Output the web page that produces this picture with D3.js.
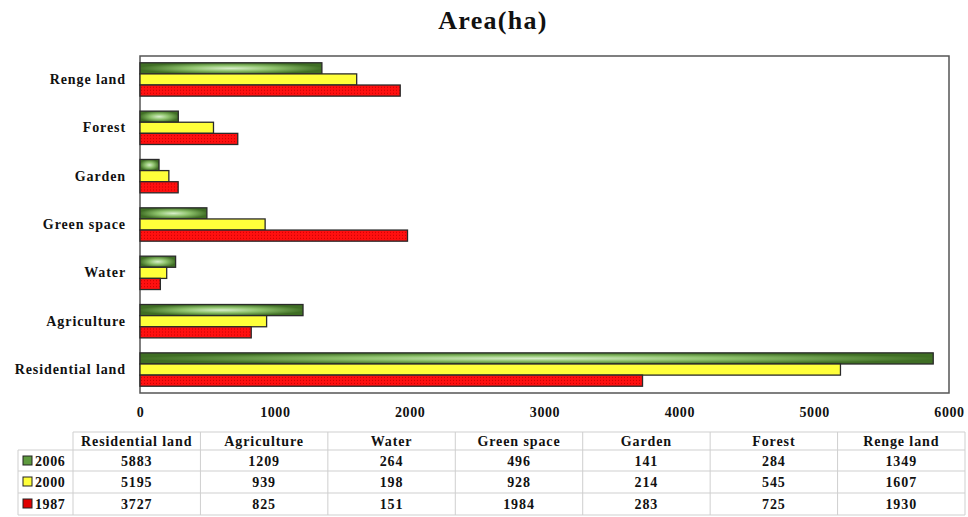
<!DOCTYPE html>
<html>
<head>
<meta charset="utf-8">
<script src="https://cdn.jsdelivr.net/npm/d3@7"></script>
<style>
  html, body { margin: 0; padding: 0; background: #fff; }
  svg { display: block; }
  text { font-family: "Liberation Serif", "Times New Roman", serif; font-weight: bold; fill: #111; }
</style>
</head>
<body>
<svg id="chart" width="968" height="517"></svg>
<script>
// ---- data ----
const categories = ["Residential land", "Agriculture", "Water", "Green space", "Garden", "Forest", "Renge land"];
const years = ["2006", "2000", "1987"];
const values2006 = [5883, 1209, 264, 496, 141, 284, 1349];
const values2000 = [5195, 939, 198, 928, 214, 545, 1607];
const values1987 = [3727, 825, 151, 1984, 283, 725, 1930];
const xTicks = [0, 1000, 2000, 3000, 4000, 5000, 6000];
const titleText = "Area(ha)";

const seriesValues = { "2006": values2006, "2000": values2000, "1987": values1987 };
const fills = { "2006": "url(#greenGrad)", "2000": "#ffff3a", "1987": "url(#redPat)" };
const swatch = { "2006": "#5e9a3e", "2000": "#ffff3a", "1987": "#e00000" };

const svg = d3.select("#chart");
const defs = svg.append("defs");

const rg = defs.append("radialGradient").attr("id", "greenGrad")
  .attr("cx", "50%").attr("cy", "50%").attr("r", "60%");
rg.append("stop").attr("offset", "0%").attr("stop-color", "#d8eecb");
rg.append("stop").attr("offset", "40%").attr("stop-color", "#8ec26c");
rg.append("stop").attr("offset", "85%").attr("stop-color", "#3f6e24");

const pat = defs.append("pattern").attr("id", "redPat")
  .attr("width", 3).attr("height", 3).attr("patternUnits", "userSpaceOnUse");
pat.append("rect").attr("width", 3).attr("height", 3).attr("fill", "#ff1010");
pat.append("rect").attr("x", 0).attr("y", 0).attr("width", 1).attr("height", 1).attr("fill", "#c80000");

// ---- layout ----
const plot = { left: 140, right: 949, top: 56, bottom: 393 };

svg.append("text").attr("x", 493).attr("y", 29)
  .attr("text-anchor", "middle").attr("font-size", 26).attr("letter-spacing", 1.3)
  .text(titleText);

const x = d3.scaleLinear().domain([0, 6000]).range([plot.left, plot.right]);
const y = d3.scaleBand().domain(categories.slice().reverse())
  .range([plot.top, plot.bottom]).paddingInner(0.31).paddingOuter(0.14);
const ySub = d3.scaleBand().domain(years).range([0, y.bandwidth()]);

// plot border
svg.append("rect").attr("x", plot.left).attr("y", plot.top)
  .attr("width", plot.right - plot.left).attr("height", plot.bottom - plot.top)
  .attr("fill", "none").attr("stroke", "#555").attr("stroke-width", 1.5);

// bars
const groups = svg.append("g").selectAll("g").data(categories).join("g")
  .attr("transform", d => `translate(0,${y(d)})`);
groups.selectAll("rect").data((d, i) => years.map(yr => ({ yr, v: seriesValues[yr][i] })))
  .join("rect")
  .attr("x", x(0))
  .attr("y", d => ySub(d.yr))
  .attr("width", d => x(d.v) - x(0))
  .attr("height", ySub.bandwidth())
  .attr("fill", d => fills[d.yr])
  .attr("stroke", "#2a2a2a").attr("stroke-width", 1.3);

// y labels
const yAxis = d3.axisLeft(y).tickSize(0).tickPadding(14);
const yg = svg.append("g").attr("transform", `translate(${plot.left},0)`).call(yAxis);
yg.select(".domain").remove();
yg.selectAll("text").attr("font-size", 14).attr("letter-spacing", 0.9)
  .style("font-family", '"Liberation Serif", serif').style("font-weight", "bold").attr("fill", "#111");

// x axis labels
const xAxis = d3.axisBottom(x).tickValues(xTicks).tickSize(0).tickPadding(14).tickFormat(d3.format("d"));
const xg = svg.append("g").attr("transform", `translate(0,${plot.bottom})`).call(xAxis);
xg.select(".domain").remove();
xg.selectAll("text").attr("font-size", 14).attr("letter-spacing", 0.6)
  .style("font-family", '"Liberation Serif", serif').style("font-weight", "bold").attr("fill", "#111");

// ---- data table ----
const tbl = svg.append("g");
const colX = d3.scaleBand().domain(categories).range([73, 965]);
const rowTops = [450, 471, 493];
const rowH = 22;
const lineColor = "#cfcfcf";

tbl.append("line").attr("x1", 73).attr("x2", 965).attr("y1", 432).attr("y2", 432).attr("stroke", lineColor);
[450, 471, 493, 515].forEach(yy => {
  tbl.append("line").attr("x1", 18).attr("x2", 965).attr("y1", yy).attr("y2", yy).attr("stroke", lineColor);
});
categories.forEach(c => {
  tbl.append("line").attr("x1", colX(c)).attr("x2", colX(c)).attr("y1", 432).attr("y2", 515).attr("stroke", lineColor);
});
tbl.append("line").attr("x1", 965).attr("x2", 965).attr("y1", 432).attr("y2", 515).attr("stroke", lineColor);
tbl.append("line").attr("x1", 18).attr("x2", 18).attr("y1", 450).attr("y2", 515).attr("stroke", lineColor);

tbl.selectAll("text.hdr").data(categories).join("text").attr("class", "hdr")
  .attr("x", d => colX(d) + colX.bandwidth() / 2).attr("y", 446)
  .attr("text-anchor", "middle").attr("font-size", 14).attr("letter-spacing", 0.9)
  .text(d => d);

years.forEach((yr, r) => {
  const cy = rowTops[r] + rowH / 2;
  tbl.append("rect").attr("x", 23).attr("y", cy - 5).attr("width", 9).attr("height", 9)
    .attr("fill", swatch[yr]).attr("stroke", "#222").attr("stroke-width", 1);
  tbl.append("text").attr("x", 35).attr("y", cy + 5).attr("font-size", 14).attr("letter-spacing", 0.6).text(yr);
  tbl.selectAll(null).data(seriesValues[yr]).join("text")
    .attr("x", (d, i) => colX(categories[i]) + colX.bandwidth() / 2).attr("y", cy + 5)
    .attr("text-anchor", "middle").attr("font-size", 14).attr("letter-spacing", 0.9)
    .text(d => d);
});
</script>
</body>
</html>
